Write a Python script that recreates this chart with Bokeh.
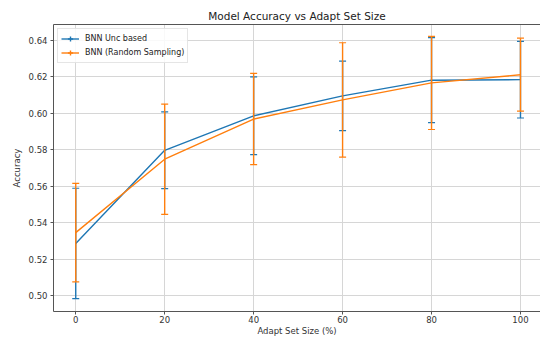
from bokeh.plotting import figure
from bokeh.models import (ColumnDataSource, FixedTicker, PrintfTickFormatter,
                          Legend, LegendItem, LinearAxis, Range1d)
from bokeh.embed import file_html
from bokeh.resources import INLINE

# Accuracy (mean and std) per adapt-set size
adapt_sizes = [0, 20, 40, 60, 80, 100]
unc_acc = [0.5286, 0.5796, 0.5985, 0.6094, 0.6180, 0.6183]
unc_err = [0.0302, 0.0210, 0.0213, 0.0190, 0.0233, 0.0210]
rand_acc = [0.5345, 0.5747, 0.5967, 0.6072, 0.6165, 0.6210]
rand_err = [0.0270, 0.0302, 0.0250, 0.0313, 0.0255, 0.0200]

x_ticks = [0, 20, 40, 60, 80, 100]
y_ticks = [0.50, 0.52, 0.54, 0.56, 0.58, 0.60, 0.62, 0.64]

series_names = ["BNN Unc based", "BNN (Random Sampling)"]
series_colors = ["#1f77b4", "#ff7f0e"]

FONT = "DejaVu Sans"
SPINE = "#555555"

p = figure(width=540, height=338, output_backend="svg", toolbar_location=None,
           x_range=Range1d(-5, 104.5), y_range=Range1d(0.4913, 0.6485),
           min_border_left=53, min_border_right=0, min_border_top=24,
           min_border_bottom=0, title="Model Accuracy vs Adapt Set Size")

p.outline_line_color = None
p.background_fill_color = "white"
p.border_fill_color = "white"

p.title.align = "center"
p.title.text_font = FONT
p.title.text_font_size = "10.5px"
p.title.text_font_style = "normal"
p.title.text_color = "#222222"
p.title.standoff = 6

xaxis = p.below[0]
yaxis = p.left[0]
for ax in (xaxis, yaxis):
    ax.axis_line_color = SPINE
    ax.major_tick_line_color = SPINE
    ax.major_tick_out = 3
    ax.major_tick_in = 0
    ax.minor_tick_out = 0
    ax.minor_tick_in = 0
    ax.major_label_text_font = FONT
    ax.major_label_text_font_size = "8.5px"
    ax.major_label_text_color = "#333333"
    ax.axis_label_text_font = FONT
    ax.axis_label_text_font_size = "8.5px"
    ax.axis_label_text_font_style = "normal"
    ax.axis_label_text_color = "#333333"

yaxis.major_label_standoff = 3
yaxis.axis_label_standoff = 4
xaxis.major_label_standoff = 1
xaxis.axis_label_standoff = 0

xaxis.ticker = FixedTicker(ticks=x_ticks)
yaxis.ticker = FixedTicker(ticks=y_ticks)
yaxis.formatter = PrintfTickFormatter(format="%.2f")
xaxis.axis_label = "Adapt Set Size (%)"
yaxis.axis_label = "Accuracy"

# top spine only: no ticks, no labels
top_axis = LinearAxis(ticker=FixedTicker(ticks=[]), axis_line_color=SPINE,
                      major_tick_out=0, major_tick_in=0,
                      minor_tick_out=0, minor_tick_in=0,
                      major_label_text_font_size="0px",
                      major_label_standoff=0)
p.add_layout(top_axis, "above")

p.xgrid.ticker = FixedTicker(ticks=x_ticks)
p.ygrid.ticker = FixedTicker(ticks=y_ticks)
p.grid.grid_line_color = "#d6d6d6"
p.grid.grid_line_width = 1

items = []
for name, color, acc, err in zip(series_names, series_colors,
                                  [unc_acc, rand_acc], [unc_err, rand_err]):
    src = ColumnDataSource(dict(
        x=adapt_sizes, y=acc,
        upper=[a + e for a, e in zip(acc, err)],
        lower=[a - e for a, e in zip(acc, err)],
    ))
    line = p.line("x", "y", source=src, line_color=color, line_width=1.4)
    p.segment(x0="x", y0="lower", x1="x", y1="upper", source=src,
              line_color=color, line_width=1.4)
    p.scatter("x", "upper", source=src, marker="dash", size=7,
              line_color=color, line_width=1.2)
    p.scatter("x", "lower", source=src, marker="dash", size=7,
              line_color=color, line_width=1.2)
    # zero-size cross: only shows up as the error-bar stroke in the legend
    key = p.scatter("x", "y", source=src, marker="cross", size=0,
                    line_color=color, line_width=1.4)
    items.append(LegendItem(label=name, renderers=[line, key]))

legend = Legend(items=items, location="top_left", margin=4, padding=3,
                spacing=1, glyph_height=13, glyph_width=18, label_height=13,
                label_standoff=6, label_text_font=FONT,
                label_text_font_size="8px", label_text_color="#222222",
                border_line_color="#cccccc", background_fill_alpha=0.85)
p.add_layout(legend)

open("out.html", "w").write(file_html(p, INLINE))
